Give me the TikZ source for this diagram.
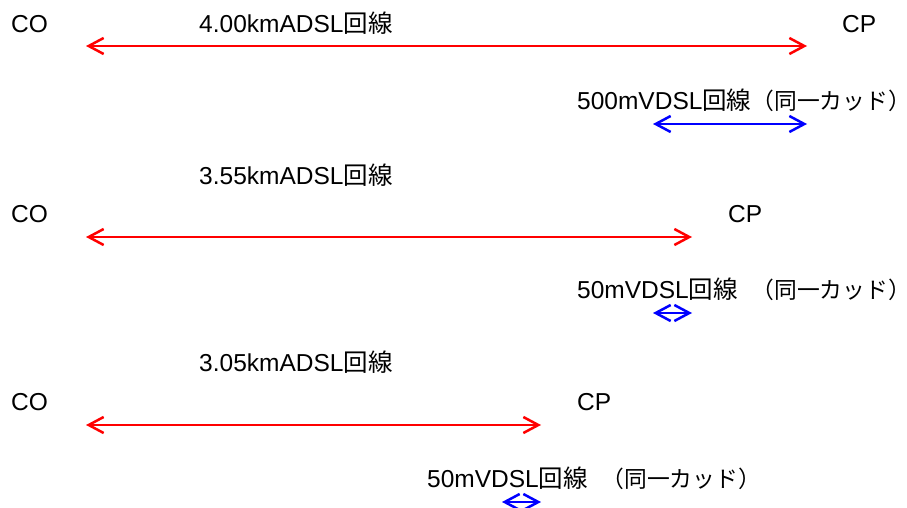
\documentclass[tikz,border=0pt]{standalone}
\usepackage{fontspec}
\setmainfont{Liberation Sans}
\newfontfamily\jp{Noto Sans CJK JP}
\newfontfamily\jpnote[Scale=0.93]{Noto Sans CJK JP}
\usepackage{xcolor}
\definecolor{AdslRed}{HTML}{FF0000}
\definecolor{VdslBlue}{HTML}{0000FF}
\usetikzlibrary{arrows.meta}

\begin{document}
\begin{tikzpicture}[x=1pt,y=-1pt,every node/.style={inner sep=0pt,anchor=base west,font=\fontsize{24.5}{29}\selectfont},
    adsl/.style={draw=AdslRed,line width=2.5pt,{Straight Barb[length=15pt,width=16pt]}-{Straight Barb[length=15pt,width=16pt]}},
    vdsl/.style={draw=VdslBlue,line width=2.5pt,{Straight Barb[length=15pt,width=16pt]}-{Straight Barb[length=15pt,width=16pt]}}]
    \useasboundingbox (0,0) rectangle (907,508);
    % 4.00km
    \node (co1) at (11,33) {CO};
    \node (cp1) at (842,33) {CP};
    \node (adsl1) at (199,33) {4.00kmADSL{\jp 回線}};
    \node (vdsl1) at (577,110) {500mVDSL{\jp 回線}{\jpnote （同一カッド\makebox[0.5em][l]{）}}};
    \coordinate (a1) at (86,46);
    \coordinate (b1) at (807,46);
    \coordinate (c1) at (653,124);
    \coordinate (d1) at (807,124);
    \draw[adsl] (a1) -- (b1);
    \draw[vdsl] (c1) -- (d1);
    % 3.55km
    \node (adsl2) at (199,184) {3.55kmADSL{\jp 回線}};
    \node (co2) at (11,222) {CO};
    \node (cp2) at (728,222) {CP};
    \node (vdsl2) at (577,298) {50mVDSL{\jp 回線}~~{\jpnote （同一カッド\makebox[0.5em][l]{）}}};
    \coordinate (a2) at (86,237);
    \coordinate (b2) at (692,237);
    \coordinate (c2) at (653,313);
    \coordinate (d2) at (692,313);
    \draw[adsl] (a2) -- (b2);
    \draw[vdsl] (c2) -- (d2);
    % 3.05km
    \node (adsl3) at (199,371) {3.05kmADSL{\jp 回線}};
    \node (co3) at (11,410) {CO};
    \node (cp3) at (577,410) {CP};
    \node (vdsl3) at (427,487) {50mVDSL{\jp 回線}~~{\jpnote （同一カッド\makebox[0.5em][l]{）}}};
    \coordinate (a3) at (86,425);
    \coordinate (b3) at (541,425);
    \coordinate (c3) at (502,502);
    \coordinate (d3) at (541,502);
    \draw[adsl] (a3) -- (b3);
    \draw[vdsl] (c3) -- (d3);
  \end{tikzpicture}
\end{document}
